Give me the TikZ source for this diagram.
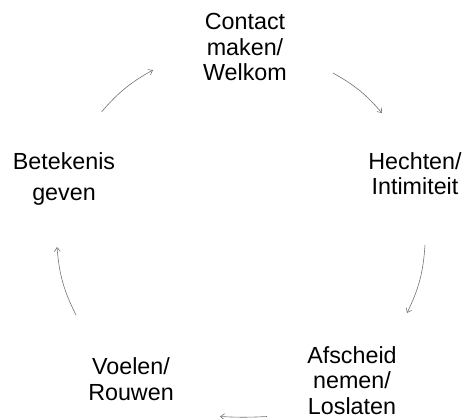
\documentclass[tikz,border=0pt]{standalone}
\usepackage{fontspec}
\setmainfont{Liberation Sans}
\usetikzlibrary{arrows.meta}
\tikzset{
  lbl/.style={inner sep=0pt, align=center, anchor=base, font=\fontsize{23.3}{25.5}\selectfont},
  cyc/.style={draw=black!55, line width=0.6pt, -{Straight Barb[length=4pt,width=6pt]}, bend left=#1},
}
\begin{document}
\begin{tikzpicture}[x=1pt,y=1pt]
\useasboundingbox (0,0) rectangle (465,418);
\node[lbl] (contact) at (245,337) {Contact\\maken/\\Welkom};
\node[lbl] (hechten) at (415,223) {Hechten/\\Intimiteit};
\node[lbl] (afscheid) at (352,4) {Afscheid\\nemen/\\Loslaten};
\node[lbl] (voelen) at (131,18) {Voelen/\\Rouwen};
\node[lbl, font=\fontsize{23.3}{31}\selectfont] (betekenis) at (64,218) {Betekenis\\geven};
\coordinate (a1s) at (101.7,306.3); \coordinate (a1e) at (153,348);
\coordinate (a2s) at (333,345);     \coordinate (a2e) at (382,305);
\coordinate (a3s) at (425,173);     \coordinate (a3e) at (407,105);
\coordinate (a4s) at (267,1.5);     \coordinate (a4e) at (220,1.5);
\coordinate (a5s) at (76,103);      \coordinate (a5e) at (57,171);
\draw[cyc=10] (a1s) to (a1e);
\draw[cyc=10] (a2s) to (a2e);
\draw[cyc=11] (a3s) to (a3e);
\draw[cyc=3] (a4s) to (a4e);
\draw[cyc=11] (a5s) to (a5e);
\end{tikzpicture}
\end{document}
